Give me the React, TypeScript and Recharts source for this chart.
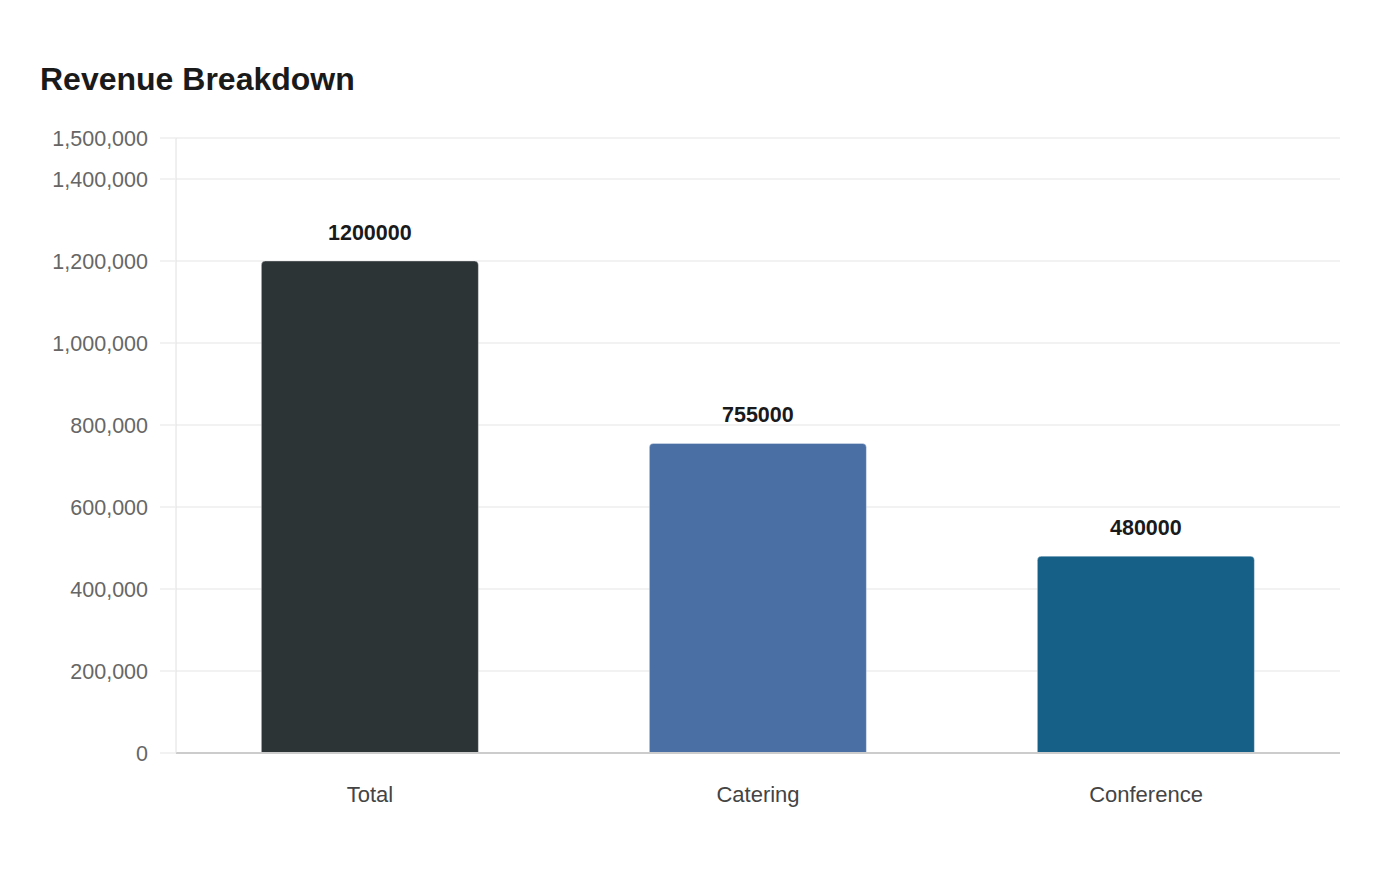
import React from "react";
import {
  BarChart,
  Bar,
  XAxis,
  YAxis,
  CartesianGrid,
  Cell,
  LabelList,
} from "recharts";

const categories = ["Total", "Catering", "Conference"];
const revenue = [1200000, 755000, 480000];
const barColors = ["#2d3436", "#4a6fa5", "#166088"];
const yTicks = [0, 200000, 400000, 600000, 800000, 1000000, 1200000, 1400000, 1500000];

const data = categories.map((name, i) => ({ name, value: revenue[i] }));

const FONT = '"Liberation Sans", Arial, Helvetica, sans-serif';

export default function App() {
  return (
    <div
      style={{
        position: "absolute",
        left: 0,
        top: 0,
        width: 1400,
        height: 880,
        background: "#ffffff",
        fontFamily: FONT,
      }}
    >
      <div
        style={{
          position: "absolute",
          left: 40,
          top: 60,
          fontSize: 32,
          fontWeight: 700,
          color: "#1a1a1a",
          lineHeight: "38px",
        }}
      >
        Revenue Breakdown
      </div>
      <BarChart
        width={1400}
        height={880}
        data={data}
        margin={{ top: 138, right: 60, bottom: 67, left: 0 }}
        barCategoryGap="22%"
        style={{ fontFamily: FONT }}
      >
        <CartesianGrid vertical={false} stroke="#eeeeee" strokeWidth={1.5} />
        <XAxis
          dataKey="name"
          height={60}
          tickLine={false}
          tickSize={0}
          tickMargin={33}
          axisLine={{ stroke: "#cccccc", strokeWidth: 2 }}
          tick={{ fontSize: 22, fill: "#444444" }}
        />
        <YAxis
          width={176}
          domain={[0, 1500000]}
          ticks={yTicks}
          interval={0}
          tickSize={16}
          tickMargin={12}
          tickLine={{ stroke: "#eeeeee", strokeWidth: 1.5 }}
          axisLine={{ stroke: "#e0e0e0" }}
          tick={{ fontSize: 21.5, fill: "#666666" }}
          tickFormatter={(v: number) => v.toLocaleString("en-US")}
        />
        <Bar
          dataKey="value"
          radius={[4, 4, 0, 0]}
          stroke="rgba(255,255,255,0.35)"
          strokeWidth={1}
          isAnimationActive={false}
        >
          {data.map((d, i) => (
            <Cell key={d.name} fill={barColors[i]} />
          ))}
          <LabelList
            dataKey="value"
            position="top"
            offset={21}
            style={{ fontSize: 21.5, fontWeight: 700, fill: "#1a1a1a" }}
          />
        </Bar>
      </BarChart>
    </div>
  );
}
